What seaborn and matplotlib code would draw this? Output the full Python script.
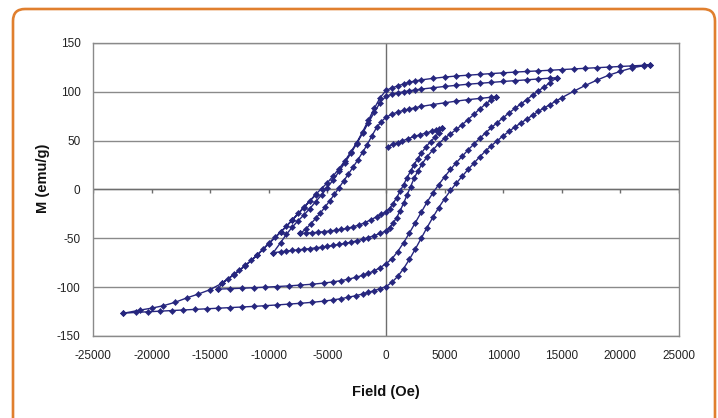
import numpy as np
import pandas as pd
import matplotlib
matplotlib.use("Agg")
import matplotlib.pyplot as plt
import seaborn as sns
from matplotlib.patches import FancyBboxPatch

init_H = [-6000, -7000, -8000, -9000, -10000, -11000, -12000, -13000, -14000, -15000,
          -16000, -17000, -18000, -19000, -20000, -21000, -22400]
init_M = [-5.5, -18.5, -31.5, -44, -55.5, -67.5, -78, -87.5, -96, -102.5,
          -107, -111, -115.5, -119, -121.5, -123.5, -126.7]

a4_H = [-22400, -21300, -20300, -19300, -18300, -17300, -16300, -15300, -14300, -13300,
        -12300, -11300, -10300, -9300, -8300, -7300, -6300, -5300, -4500, -3800, -3200,
        -2600, -2000, -1500, -1000, -500, 0, 500, 1000, 1500, 2000, 2500, 3000, 3500,
        4000, 4500, 5000, 5500, 6000, 6500, 7000, 7500, 8000, 8500, 9000, 9500, 10000,
        10500, 11000, 11500, 12000, 12500, 13000, 13500, 14000, 14500, 15000, 16000,
        17000, 18000, 19000, 20000, 21000, 22000, 22500]
a4_M = [-126.7, -125.8, -125.2, -124.6, -124, -123.4, -122.8, -122.3, -121.7, -121.1,
        -120.4, -119.7, -119, -118.2, -117.4, -116.5, -115.5, -114.3, -113, -111.7, -110.3,
        -108.8, -107, -105.3, -103.5, -101.5, -99.5, -95, -89, -81, -71.5, -61, -50, -39,
        -28.5, -18.5, -9.5, -1, 6.5, 13.5, 20.5, 27, 33.5, 39.5, 45, 50, 55,
        59.5, 64, 68, 72, 76, 80, 83.5, 87, 90.5, 94, 100.5,
        106.5, 112, 117, 121, 124.5, 126.8, 127.4]

d4_H = [22500, 22000, 21000, 20000, 19000, 18000, 17000, 16000, 15000, 14000, 13000,
        12000, 11000, 10000, 9000, 8000, 7000, 6000, 5000, 4000, 3000, 2500, 2000, 1500,
        1000, 500, 0, -500, -1000, -1500, -2000, -2500, -3000, -3500, -4000, -4500, -5000,
        -5500, -6000, -6500, -7000, -7500, -8000, -8500, -9000, -9500, -10000, -10500,
        -11000, -11500, -12000, -12500, -13000, -13500, -14000, -14300]
d4_M = [127.4, 127.2, 126.6, 126, 125.4, 124.8, 124.1, 123.4, 122.8, 122.1, 121.5,
        120.9, 120.2, 119.5, 118.7, 117.9, 117.1, 116.2, 115.1, 113.8, 112.2, 111.2, 109.8, 108.1,
        106, 104, 101.5, 94, 83, 71, 59, 48, 38.5, 29.5, 21.5, 14, 7,
        1, -5, -11.5, -18, -24.5, -31, -37.5, -43.5, -49, -55, -61,
        -67, -72.5, -77.5, -82.5, -87, -91.5, -96, -102]

a3_H = [-14300, -13300, -12300, -11300, -10300, -9300, -8300, -7300, -6300, -5300, -4500,
        -3800, -3200, -2600, -2000, -1500, -1000, -500, 0, 500, 1000, 1500, 2000, 2500,
        3000, 3500, 4000, 4500, 5000, 5500, 6000, 6500, 7000, 7500, 8000, 8500, 9000,
        9500, 10000, 10500, 11000, 11500, 12000, 12500, 13000, 13500, 14000, 14560]
a3_M = [-102, -101.6, -101.1, -100.6, -100, -99.4, -98.7, -97.9, -97, -95.8, -94.6,
        -93.2, -91.8, -90, -88, -85.8, -83.3, -80, -76, -71, -63.5, -54.5, -44.5, -34,
        -23.5, -13, -3.5, 5, 13, 20.5, 27.5, 34, 40.5, 46.5, 52.5, 58, 63.5,
        68.5, 73.5, 78.5, 83, 87.5, 92, 96.5, 101, 105, 109.5, 114.5]

d3_H = [14560, 14000, 13000, 12000, 11000, 10000, 9000, 8000, 7000, 6000, 5000, 4000,
        3000, 2500, 2000, 1500, 1000, 500, 0, -500, -1000, -1500, -2000, -2500, -3000,
        -3500, -4000, -4500, -5000, -5500, -6000, -6500, -7000, -7500, -8000, -8500,
        -9000, -9620]
d3_M = [114.5, 114, 113.2, 112.3, 111.5, 110.6, 109.7, 108.8, 107.8, 106.7, 105.5, 104.2,
        102.8, 102, 101, 100, 99, 97.5, 95.5, 89, 79, 68.5, 57.5, 47, 37,
        27.5, 18.5, 10, 2, -5.5, -12.5, -19.5, -26, -32, -38.5, -46,
        -54.5, -64.7]

a2_H = [-9620, -9000, -8500, -8000, -7500, -7000, -6500, -6000, -5500, -5000, -4500,
        -4000, -3500, -3000, -2500, -2000, -1500, -1000, -500, 0, 300, 600, 900, 1200,
        1500, 1800, 2100, 2400, 2700, 3100, 3500, 4000, 4500, 5000, 5500, 6000, 6500,
        7000, 7500, 8000, 8500, 9000, 9380]
a2_M = [-64.7, -63.8, -63, -62.4, -61.8, -61.2, -60.5, -59.8, -59, -58.2, -57.3,
        -56.3, -55.2, -54, -52.6, -51, -49.2, -47.2, -45, -42.5, -39, -34.5, -29, -22,
        -14, -5.5, 3, 11.5, 18.5, 26.5, 33.5, 40.5, 47, 52.5, 57, 61.5, 66.5,
        71.5, 77, 82.5, 87.5, 92, 95]

d2_H = [9380, 9000, 8000, 7000, 6000, 5000, 4000, 3000, 2500, 2000, 1500, 1000, 500, 0,
        -400, -800, -1200, -1600, -2000, -2400, -2800, -3200, -3600, -4000, -4400, -4800,
        -5200, -5600, -6000, -6400, -6800, -7300]
d2_M = [95, 94.5, 93.3, 92, 90.5, 88.8, 87, 85, 83.8, 82.5, 81, 79.3, 77, 74,
        69.5, 63.5, 55, 46, 38, 30.5, 23, 16, 9, 2, -5, -11.5,
        -18, -24, -29.5, -35, -40, -45]

a1_H = [-7300, -6800, -6300, -5800, -5300, -4800, -4300, -3800, -3300, -2800, -2300,
        -1800, -1300, -800, -400, 0, 300, 600, 900, 1200, 1500, 1800, 2100, 2400, 2700,
        3000, 3400, 3800, 4200, 4500, 4750]
a1_M = [-45, -44.7, -44.3, -43.8, -43.2, -42.5, -41.7, -40.8, -39.7, -38.2, -36.3,
        -34, -31, -28, -25.5, -23, -19.5, -14.5, -8.5, -2, 5, 12, 19, 25.5, 31.5,
        37, 43.5, 49, 54, 58, 63]

s_H = [4750, 4550, 4300, 3900, 3400, 2900, 2400, 1900, 1400, 1000, 600, 200]
s_M = [63, 62, 61, 59.5, 57.8, 56.2, 54.3, 52, 49.8, 48, 46.3, 44]

x_ticks = [-25000, -20000, -15000, -10000, -5000, 0, 5000, 10000, 15000, 20000, 25000]
y_ticks = [-150, -100, -50, 0, 50, 100, 150]
x_title = "Field (Oe)"
y_title = "M (emu/g)"

# ---- build one ordered path ----
branches = [(init_H, init_M), (a4_H, a4_M), (d4_H, d4_M), (a3_H, a3_M), (d3_H, d3_M),
            (a2_H, a2_M), (d2_H, d2_M), (a1_H, a1_M), (s_H, s_M)]
df = pd.DataFrame({
    "Field": np.concatenate([np.asarray(h, float) for h, _ in branches]),
    "M": np.concatenate([np.asarray(m, float) for _, m in branches]),
})

sns.set_style("white")
plt.rcParams["font.family"] = ["Liberation Sans", "DejaVu Sans"]
plt.rcParams["axes.unicode_minus"] = False

W, H = 718, 418
fig = plt.figure(figsize=(W / 100, H / 100), dpi=100)
fig.patch.set_facecolor("white")

ax = fig.add_axes([93 / W, 82 / H, 586 / W, 293 / H])
navy = "#26267e"
grid_c = "#8a8a8a"

ax.set_xlim(-25000, 25000)
ax.set_ylim(-150, 150)
ax.set_yticks(y_ticks)
ax.set_xticks(x_ticks)
ax.grid(axis="y", color=grid_c, lw=1.0)
ax.grid(axis="x", visible=False)
ax.set_axisbelow(True)
for sp in ax.spines.values():
    sp.set_color(grid_c)
    sp.set_linewidth(1.0)

ax.axvline(0, color="#6e6e6e", lw=1.0, zorder=1)
ax.axhline(0, color="#6e6e6e", lw=1.0, zorder=1)
ax.vlines(x_ticks, -3.5, 0, color="#6e6e6e", lw=1.0, zorder=1)

sns.lineplot(data=df, x="Field", y="M", sort=False, estimator=None, ax=ax,
             color=navy, lw=1.0, marker="D", markersize=3.1,
             markeredgecolor=navy, markeredgewidth=0.4, zorder=3)

ax.set_xlabel("")
ax.set_ylabel("")
ax.tick_params(axis="both", length=0, labelsize=8.5, labelcolor="#222222")
ax.tick_params(axis="y", pad=9)
ax.tick_params(axis="x", pad=10)

fig.text(386 / W, 1 - 392 / H, x_title, ha="center", va="center",
         fontsize=10.5, fontweight="bold", color="#111111")
fig.text(43 / W, 1 - 178 / H, y_title, ha="center", va="center", rotation=90,
         fontsize=10.5, fontweight="bold", color="#111111")

frame = FancyBboxPatch((13 / 100, -0.5), (715 - 13) / 100, (H - 9) / 100 + 0.5,
                       boxstyle="round,pad=0,rounding_size=0.12",
                       transform=fig.dpi_scale_trans, fc="none", ec="#E07F2E", lw=1.9,
                       clip_on=False)
fig.patches.append(frame)

fig.savefig("out.png", dpi=100, facecolor="white")
